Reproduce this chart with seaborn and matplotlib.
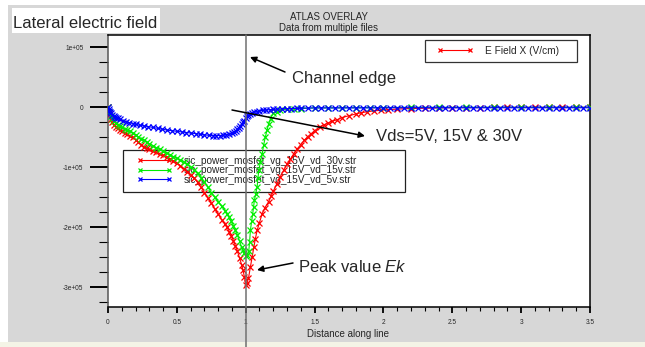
import matplotlib
matplotlib.use("Agg")
import matplotlib.pyplot as plt
import seaborn as sns
import pandas as pd
from matplotlib.patches import Rectangle
from matplotlib.lines import Line2D
from matplotlib.ticker import MultipleLocator, FixedLocator

# ---------------- data (E field in V/cm vs distance along line) ----------------
x_30v = [0.00, 0.01, 0.02, 0.03, 0.04, 0.055, 0.07, 0.085, 0.10, 0.12, 0.14, 0.16,
         0.18, 0.20, 0.22, 0.24, 0.26, 0.28, 0.30, 0.325, 0.35, 0.375, 0.40, 0.425,
         0.45, 0.475, 0.50, 0.525, 0.55, 0.575, 0.60, 0.625, 0.65, 0.675, 0.70,
         0.725, 0.75, 0.775, 0.80, 0.825, 0.85, 0.865, 0.88, 0.895, 0.91, 0.925,
         0.94, 0.955, 0.97, 0.98, 0.99, 1.00, 1.01, 1.02, 1.034, 1.047, 1.06, 1.07,
         1.083, 1.10, 1.12, 1.14, 1.167, 1.185, 1.20, 1.225, 1.25, 1.275, 1.30,
         1.325, 1.35, 1.375, 1.40, 1.425, 1.45, 1.475, 1.50, 1.54, 1.57, 1.60, 1.63,
         1.66, 1.70, 1.75, 1.80, 1.84, 1.88, 1.93, 1.98, 2.03, 2.10, 2.20, 2.30,
         2.40, 2.50, 2.60, 2.70, 2.80, 2.90, 3.00, 3.10, 3.20, 3.30, 3.40, 3.50]
y_30v = [0.0, -0.11e5, -0.20e5, -0.25e5, -0.29e5, -0.32e5, -0.35e5, -0.38e5,
         -0.40e5, -0.43e5, -0.45e5, -0.48e5, -0.50e5, -0.54e5, -0.58e5, -0.62e5,
         -0.66e5, -0.68e5, -0.70e5, -0.73e5, -0.75e5, -0.78e5, -0.80e5, -0.83e5,
         -0.86e5, -0.89e5, -0.93e5, -0.97e5, -1.02e5, -1.07e5, -1.12e5, -1.18e5,
         -1.25e5, -1.33e5, -1.42e5, -1.51e5, -1.60e5, -1.69e5, -1.78e5, -1.87e5,
         -1.95e5, -2.00e5, -2.07e5, -2.14e5, -2.22e5, -2.31e5, -2.40e5, -2.51e5,
         -2.62e5, -2.71e5, -2.82e5, -2.96e5, -2.92e5, -2.85e5, -2.66e5, -2.49e5,
         -2.32e5, -2.19e5, -2.05e5, -1.92e5, -1.77e5, -1.67e5, -1.57e5, -1.48e5,
         -1.40e5, -1.28e5, -1.16e5, -1.05e5, -0.95e5, -0.86e5, -0.77e5, -0.69e5,
         -0.62e5, -0.55e5, -0.49e5, -0.44e5, -0.39e5, -0.32e5, -0.29e5, -0.26e5,
         -0.23e5, -0.21e5, -0.17e5, -0.14e5, -0.11e5, -0.09e5, -0.075e5, -0.06e5,
         -0.05e5, -0.04e5, -0.03e5, -0.02e5, -0.015e5, -0.01e5, -0.005e5,
         -0.005e5, -0.005e5, 0.0, 0.0, 0.0, 0.0, 0.0, 0.0, 0.0, 0.0]

x_15v = [0.00, 0.01, 0.02, 0.03, 0.04, 0.055, 0.07, 0.085, 0.10, 0.12, 0.14, 0.16,
         0.18, 0.20, 0.22, 0.24, 0.26, 0.28, 0.30, 0.325, 0.35, 0.375, 0.40, 0.425,
         0.45, 0.475, 0.50, 0.525, 0.55, 0.575, 0.60, 0.625, 0.65, 0.675, 0.70,
         0.725, 0.75, 0.775, 0.80, 0.825, 0.85, 0.865, 0.88, 0.895, 0.91, 0.925,
         0.94, 0.955, 0.97, 0.98, 0.99, 1.00, 1.01, 1.022, 1.028, 1.034, 1.043,
         1.051, 1.057, 1.063, 1.073, 1.083, 1.089, 1.095, 1.107, 1.12, 1.13, 1.143,
         1.155, 1.167, 1.18, 1.20, 1.225, 1.25, 1.30, 1.35, 1.40, 1.50, 1.60, 1.70,
         1.80, 1.90, 2.00, 2.20, 2.40, 2.60, 2.80, 3.00, 3.20, 3.40, 3.50]
y_15v = [0.0, -0.08e5, -0.15e5, -0.19e5, -0.23e5, -0.26e5, -0.29e5, -0.31e5,
         -0.33e5, -0.36e5, -0.38e5, -0.40e5, -0.43e5, -0.46e5, -0.49e5, -0.52e5,
         -0.55e5, -0.58e5, -0.61e5, -0.64e5, -0.67e5, -0.70e5, -0.73e5, -0.76e5,
         -0.79e5, -0.82e5, -0.85e5, -0.88e5, -0.91e5, -0.95e5, -0.99e5, -1.04e5,
         -1.10e5, -1.17e5, -1.25e5, -1.33e5, -1.42e5, -1.50e5, -1.57e5, -1.65e5,
         -1.72e5, -1.77e5, -1.83e5, -1.90e5, -1.97e5, -2.05e5, -2.13e5, -2.23e5,
         -2.33e5, -2.38e5, -2.43e5, -2.47e5, -2.46e5, -2.40e5, -2.25e5, -2.05e5,
         -1.90e5, -1.77e5, -1.66e5, -1.55e5, -1.44e5, -1.32e5, -1.18e5, -1.05e5,
         -0.91e5, -0.77e5, -0.63e5, -0.49e5, -0.38e5, -0.27e5, -0.19e5, -0.10e5,
         -0.07e5, -0.05e5, -0.03e5, -0.025e5, -0.02e5, -0.01e5, -0.01e5,
         -0.008e5, -0.006e5, -0.005e5, -0.004e5, 0.0, 0.0, 0.0, 0.0, 0.0, 0.0,
         0.0, 0.0]

x_5v = [0.00, 0.005, 0.01, 0.015, 0.02, 0.03, 0.04, 0.05, 0.06, 0.075, 0.09, 0.11,
        0.13, 0.155, 0.18, 0.205, 0.23, 0.26, 0.29, 0.325, 0.36, 0.395, 0.43, 0.465,
        0.50, 0.535, 0.57, 0.605, 0.64, 0.67, 0.70, 0.73, 0.76, 0.785, 0.81, 0.835,
        0.86, 0.88, 0.90, 0.915, 0.93, 0.94, 0.95, 0.96, 0.97, 0.98, 0.99, 1.00,
        1.01, 1.02, 1.03, 1.045, 1.06, 1.08, 1.10, 1.125, 1.15, 1.175, 1.20, 1.23,
        1.26, 1.30, 1.33, 1.37, 1.40, 1.45, 1.50, 1.55, 1.60, 1.65, 1.70, 1.75,
        1.80, 1.85, 1.90, 1.95, 2.00, 2.05, 2.10, 2.15, 2.20, 2.25, 2.30, 2.35,
        2.40, 2.45, 2.50, 2.55, 2.60, 2.65, 2.70, 2.75, 2.80, 2.85, 2.90, 2.95,
        3.00, 3.05, 3.10, 3.15, 3.20, 3.25, 3.30, 3.35, 3.40, 3.45, 3.50]
y_5v = [0.0, -0.03e5, -0.06e5, -0.08e5, -0.10e5, -0.12e5, -0.14e5, -0.155e5,
        -0.17e5, -0.185e5, -0.20e5, -0.22e5, -0.24e5, -0.255e5, -0.27e5, -0.285e5,
        -0.30e5, -0.31e5, -0.32e5, -0.335e5, -0.35e5, -0.365e5, -0.38e5, -0.39e5,
        -0.40e5, -0.41e5, -0.42e5, -0.43e5, -0.44e5, -0.45e5, -0.46e5, -0.465e5,
        -0.47e5, -0.472e5, -0.47e5, -0.465e5, -0.455e5, -0.445e5, -0.43e5,
        -0.41e5, -0.39e5, -0.365e5, -0.34e5, -0.31e5, -0.28e5, -0.25e5, -0.22e5,
        -0.185e5, -0.15e5, -0.13e5, -0.11e5, -0.095e5, -0.08e5, -0.07e5, -0.06e5,
        -0.05e5, -0.045e5, -0.04e5, -0.035e5, -0.03e5, -0.025e5, -0.022e5,
        -0.02e5, -0.018e5, -0.015e5, -0.012e5, -0.01e5, -0.01e5, -0.01e5,
        -0.01e5, -0.01e5, -0.01e5, -0.01e5, -0.01e5, -0.01e5, -0.01e5, -0.01e5,
        -0.008e5, -0.008e5, -0.008e5, -0.008e5, -0.008e5, -0.008e5, -0.008e5,
        -0.008e5, -0.008e5, -0.008e5, -0.008e5, -0.008e5, -0.008e5, -0.008e5,
        -0.008e5, -0.008e5, -0.008e5, -0.008e5, -0.008e5, -0.008e5, -0.008e5,
        -0.008e5, -0.008e5, -0.008e5, -0.008e5, -0.008e5, -0.008e5, -0.008e5,
        -0.008e5, -0.008e5]

series_files = ["sic_power_mosfet_vg_15V_vd_30v.str",
                "sic_power_mosfet_vg_15V_vd_15v.str",
                "sic_power_mosfet_vg_15V_vd_5v.str"]
series_colors = ["#ff0000", "#00ee00", "#0000ff"]

y_ticks = [1e5, 0, -1e5, -2e5, -3e5]
y_tick_labels = ["1e+05", "0", "-1e+05", "-2e+05", "-3e+05"]
x_ticks = [0, 0.5, 1, 1.5, 2, 2.5, 3, 3.5]
x_tick_labels = ["0", "0.5", "1", "1.5", "2", "2.5", "3", "3.5"]

# ---------------- figure ----------------
sns.set_style("ticks")
plt.rcParams["font.family"] = ["Liberation Sans", "DejaVu Sans"]
plt.rcParams["mathtext.fontset"] = "custom"
plt.rcParams["mathtext.it"] = "Liberation Sans:italic"
plt.rcParams["mathtext.rm"] = "Liberation Sans"

W, H = 645, 347
def fx(x):
    return x / W
def fy(y):
    return 1 - y / H

fig = plt.figure(figsize=(W / 100, H / 100), dpi=100, facecolor="white")
fig.patches.append(Rectangle((fx(8), fy(342)), fx(645) - fx(8), fy(5) - fy(342),
                             transform=fig.transFigure, facecolor="#d7d7d7",
                             edgecolor="none", zorder=-3))
fig.patches.append(Rectangle((0, 0), 1, fy(342), transform=fig.transFigure,
                             facecolor="#f4f4e6", edgecolor="none", zorder=-3))

ax = fig.add_axes([fx(108), fy(307), fx(590) - fx(108), fy(35) - fy(307)])
ax.set_facecolor("white")

frames = []
for xs, ys, name in [(x_30v, y_30v, series_files[0]),
                     (x_15v, y_15v, series_files[1]),
                     (x_5v, y_5v, series_files[2])]:
    frames.append(pd.DataFrame({"x": xs, "y": ys, "file": name}))
df = pd.concat(frames, ignore_index=True)

for name, col in zip(series_files, series_colors):
    sub = df[df["file"] == name]
    sns.lineplot(data=sub, x="x", y="y", ax=ax, color=col, lw=0.8,
                 marker="x", markersize=3.8, markeredgewidth=0.9,
                 markeredgecolor=col, estimator=None, sort=False, legend=False,
                 zorder=3)

ax.set_xlim(0, 3.5)
ax.set_ylim(-3.328e5, 1.205e5)
ax.xaxis.set_major_locator(FixedLocator(x_ticks))
ax.set_xticklabels(x_tick_labels)
ax.xaxis.set_minor_locator(MultipleLocator(0.1))
ax.yaxis.set_major_locator(FixedLocator(y_ticks))
ax.set_yticklabels(y_tick_labels)
ax.yaxis.set_minor_locator(MultipleLocator(0.25e5))
ax.set_xlabel("")
ax.set_ylabel("")

ax.tick_params(axis="y", which="major", direction="out", length=13, width=1.4,
               pad=4.8, labelsize=4.7, color="black")
ax.tick_params(axis="y", which="minor", direction="out", length=6.3, width=0.8,
               color="black")
ax.tick_params(axis="x", which="major", direction="out", length=4.3, width=1.3,
               pad=4.5, labelsize=4.7, color="black")
ax.tick_params(axis="x", which="minor", direction="out", length=2.9, width=0.8,
               color="black")
for s in ax.spines.values():
    s.set_visible(True)
    s.set_color("black")
    s.set_linewidth(1.1)
ax.spines["left"].set_color("#555555")

# channel edge vertical line (extends below the axes)
ax.axvline(1.0, ymin=-40 / 272, ymax=1, color="#707070", lw=1.1,
           clip_on=False, zorder=4)

# ---------------- legends ----------------
h1 = [Line2D([], [], color="#ff0000", lw=0.8, marker="x", markersize=3.5,
             markeredgewidth=0.9)]
leg1 = ax.legend(h1, ["E Field X (V/cm)"], loc="upper left",
                 bbox_to_anchor=(fx(437), fy(45.5)), bbox_transform=fig.transFigure,
                 frameon=False, borderpad=0, borderaxespad=0, handlelength=3.55,
                 handletextpad=1.15, numpoints=2, fontsize=7.3)
ax.add_artist(leg1)
ax.add_patch(Rectangle((fx(425), fy(62)), fx(577) - fx(425), fy(40) - fy(62),
                       transform=fig.transFigure, facecolor="white",
                       edgecolor="#333333", lw=0.9, zorder=1))
leg1.set_zorder(5)

h2 = [Line2D([], [], color=c, lw=0.8, marker="x", markersize=3.5,
             markeredgewidth=0.9) for c in series_colors]
leg2 = ax.legend(h2, series_files, loc="upper left",
                 bbox_to_anchor=(fx(137), fy(156)), bbox_transform=fig.transFigure,
                 frameon=False, borderpad=0, borderaxespad=0, handlelength=3.5,
                 handletextpad=1.15, numpoints=2, fontsize=7.3, labelspacing=-0.06)
leg2.set_zorder(1.5)
ax.add_patch(Rectangle((fx(123), fy(192)), fx(405) - fx(123), fy(150) - fy(192),
                       transform=fig.transFigure, facecolor="none",
                       edgecolor="#222222", lw=0.9, zorder=1))

# ---------------- titles and annotations ----------------
fig.text(fx(329), fy(19.5), "ATLAS OVERLAY", ha="center", va="baseline", fontsize=7)
fig.text(fx(329), fy(31), "Data from multiple files", ha="center", va="baseline",
         fontsize=7)
fig.text(fx(348), fy(337), "Distance along line", ha="center", va="baseline",
         fontsize=7)
fig.patches.append(Rectangle((fx(12), fy(33)), fx(160) - fx(12), fy(8) - fy(33),
                             transform=fig.transFigure, facecolor="white",
                             edgecolor="none", zorder=-2))
fig.text(fx(13), fy(28.3), "Lateral electric field", ha="left", va="baseline",
         fontsize=12)

arrow = dict(arrowstyle="-|>", color="black", lw=1.1, mutation_scale=9,
             shrinkA=0, shrinkB=0)
ax.annotate("", xy=(fx(250), fy(57)), xytext=(fx(285), fy(72)),
            xycoords="figure fraction", textcoords="figure fraction",
            arrowprops=arrow, zorder=6)
ax.annotate("", xy=(fx(365), fy(136)), xytext=(fx(232), fy(110)),
            xycoords="figure fraction", textcoords="figure fraction",
            arrowprops=arrow, zorder=6)
ax.annotate("", xy=(fx(257), fy(270)), xytext=(fx(293), fy(263)),
            xycoords="figure fraction", textcoords="figure fraction",
            arrowprops=arrow, zorder=6)
fig.text(fx(292), fy(83), "Channel edge", ha="left", va="baseline", fontsize=12)
fig.text(fx(376), fy(140.7), "Vds=5V, 15V & 30V", ha="left", va="baseline",
         fontsize=12)
fig.text(fx(298), fy(271.7), r"Peak value $\mathit{Ek}$", ha="left",
         va="baseline", fontsize=12)

fig.savefig("out.png", dpi=100, facecolor=fig.get_facecolor())
